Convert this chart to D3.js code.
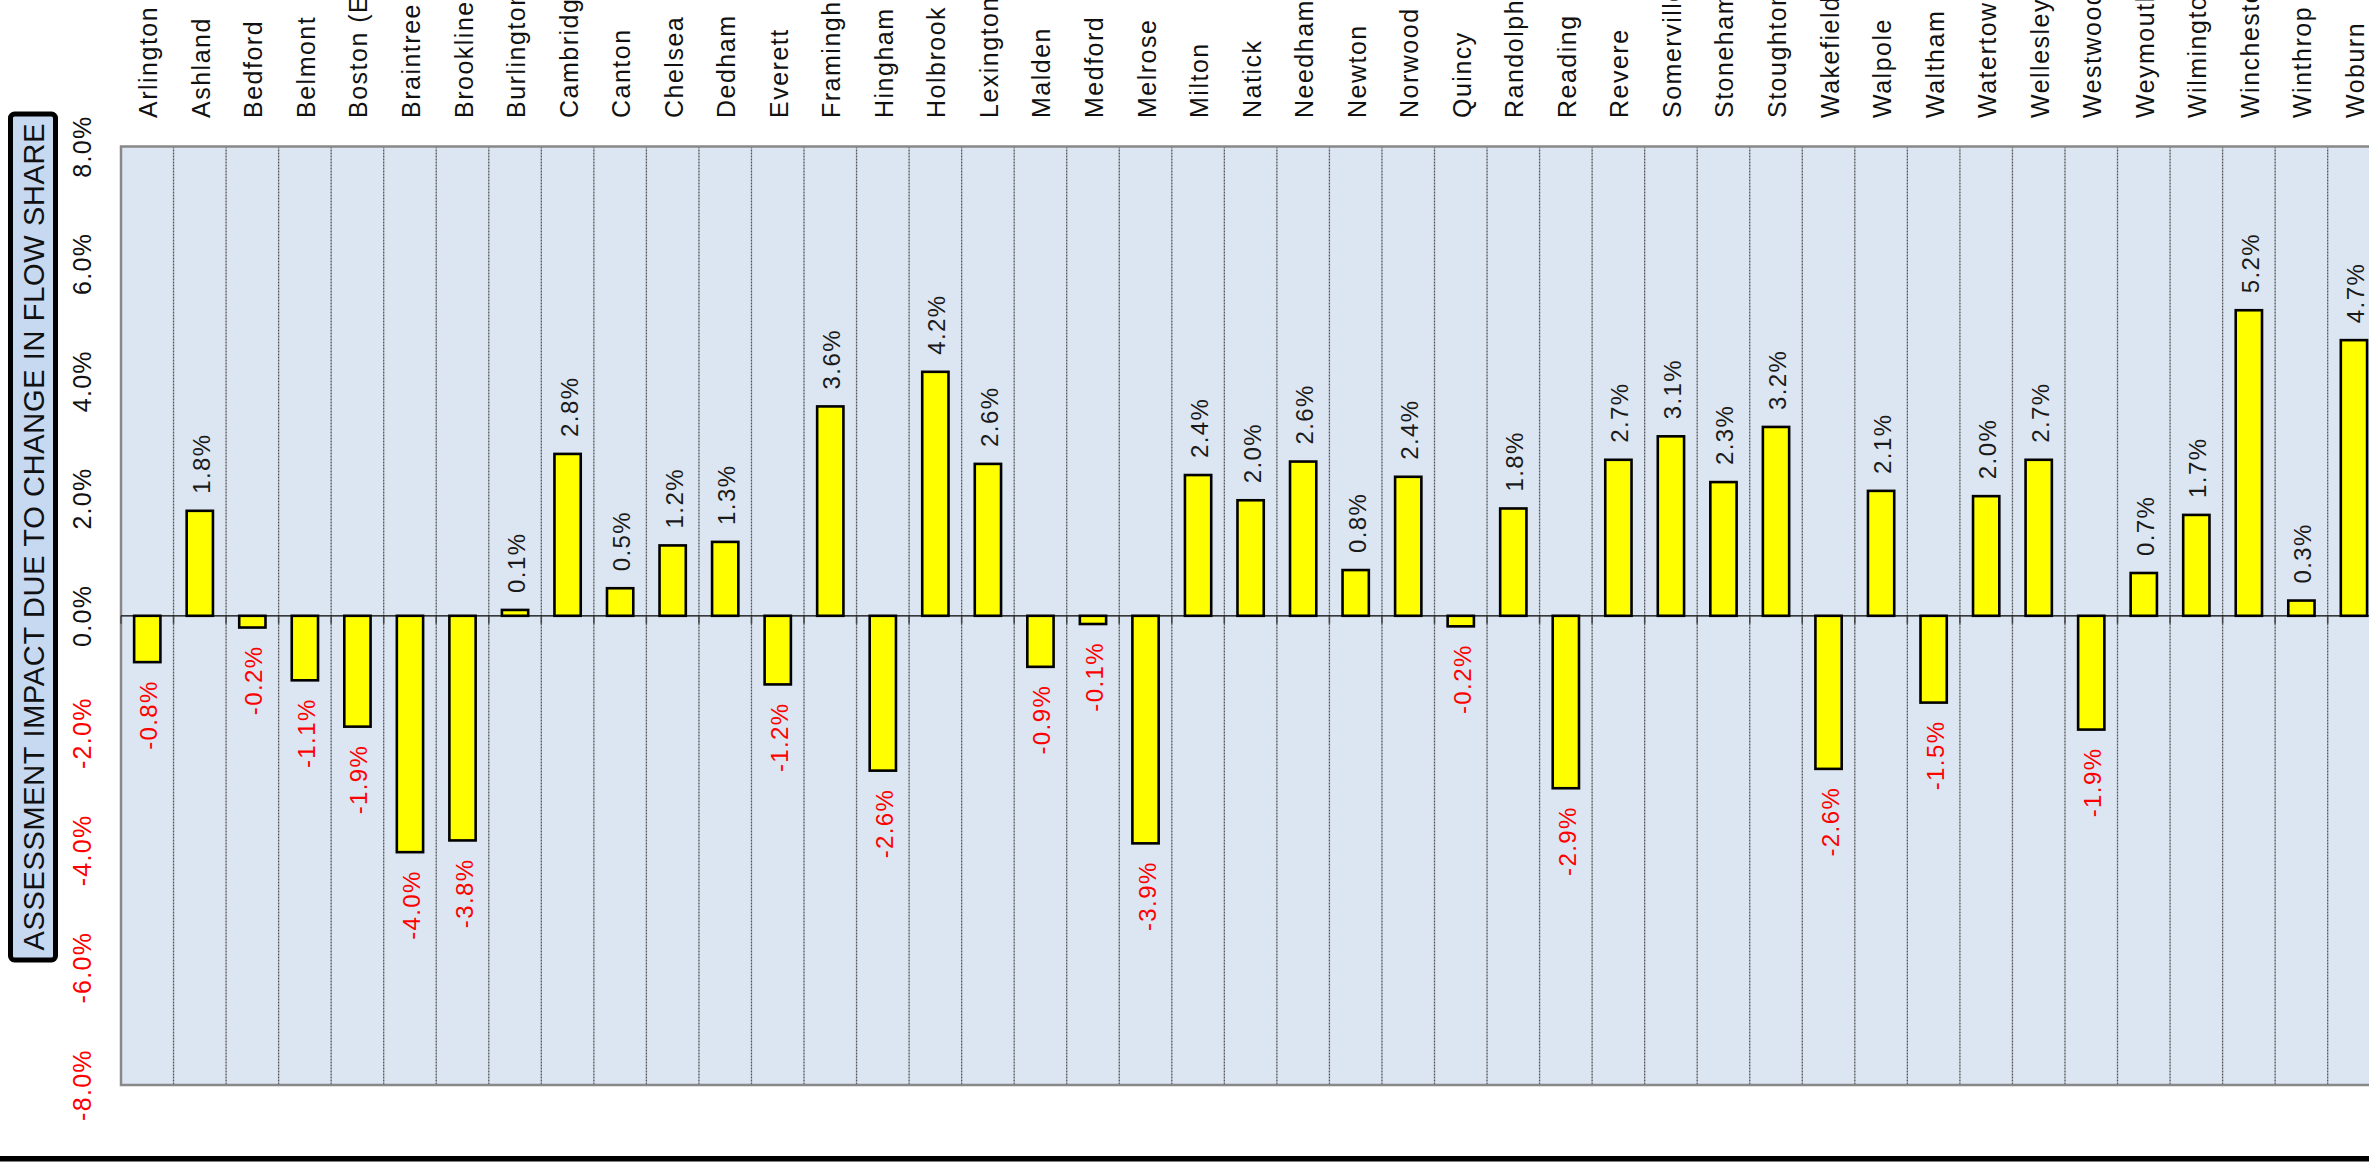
<!DOCTYPE html>
<html>
<head>
<meta charset="utf-8">
<script src="https://cdn.jsdelivr.net/npm/d3@7"></script>
<style>
  html, body { margin: 0; padding: 0; background: #fff; overflow: hidden; }
  svg { display: block; }
  text { font-family: "Liberation Sans", Arial, sans-serif; }
</style>
</head>
<body>
<svg id="chart" width="2369" height="1173"></svg>
<script>
// ---- data ----
const categories = ["Arlington","Ashland","Bedford","Belmont","Boston (East)","Braintree","Brookline","Burlington","Cambridge","Canton","Chelsea","Dedham","Everett","Framingham","Hingham","Holbrook","Lexington","Malden","Medford","Melrose","Milton","Natick","Needham","Newton","Norwood","Quincy","Randolph","Reading","Revere","Somerville","Stoneham","Stoughton","Wakefield","Walpole","Waltham","Watertown","Wellesley","Westwood","Weymouth","Wilmington","Winchester","Winthrop","Woburn"];
const values = [-0.79, 1.79, -0.20, -1.10, -1.89, -4.03, -3.83, 0.10, 2.76, 0.47, 1.20, 1.26, -1.17, 3.57, -2.64, 4.16, 2.59, -0.87, -0.14, -3.88, 2.40, 1.97, 2.63, 0.78, 2.37, -0.18, 1.83, -2.94, 2.66, 3.06, 2.28, 3.22, -2.61, 2.13, -1.48, 2.04, 2.66, -1.94, 0.73, 1.72, 5.21, 0.26, 4.70];
const tickValues = [-8, -6, -4, -2, 0, 2, 4, 6, 8];
const tickLabels = ["-8.0%", "-6.0%", "-4.0%", "-2.0%", "0.0%", "2.0%", "4.0%", "6.0%", "8.0%"];
const axisTitle = "ASSESSMENT IMPACT DUE TO CHANGE IN FLOW SHARE";

// ---- layout ----
const plotLeft = 121, plotTop = 146.6, plotBottom = 1085;
const step = 52.54;
const plotRight = plotLeft + step * categories.length;

const svg = d3.select("#chart");

const x = d3.scaleBand()
  .domain(categories)
  .range([plotLeft, plotRight])
  .paddingInner(0.5)
  .paddingOuter(0.25);

const y = d3.scaleLinear().domain([-8, 8]).range([plotBottom, plotTop]);

// plot background
svg.append("rect")
  .attr("x", plotLeft).attr("y", plotTop)
  .attr("width", plotRight - plotLeft).attr("height", plotBottom - plotTop)
  .attr("fill", "#dce6f2");

// vertical dashed gridlines at category boundaries
const boundaries = categories.slice(1).map(c => x(c) - x.step() * x.paddingInner() / 2);
svg.append("g").selectAll("line").data(boundaries).join("line")
  .attr("x1", d => d).attr("x2", d => d)
  .attr("y1", plotTop).attr("y2", plotBottom)
  .attr("stroke", "#555").attr("stroke-width", 1.3)
  .attr("stroke-dasharray", "2,1");

// plot border
svg.append("path")
  .attr("d", `M${plotRight},${plotTop}H${plotLeft}V${plotBottom}H${plotRight}`)
  .attr("fill", "none").attr("stroke", "#888").attr("stroke-width", 2.5);

// zero line
svg.append("line")
  .attr("x1", plotLeft).attr("x2", plotRight)
  .attr("y1", y(0)).attr("y2", y(0))
  .attr("stroke", "#000").attr("stroke-width", 1.2);

// category tick marks below zero line
svg.append("g").selectAll("line").data([plotLeft].concat(boundaries)).join("line")
  .attr("x1", d => d).attr("x2", d => d)
  .attr("y1", y(0)).attr("y2", y(0) + 8)
  .attr("stroke", "#444").attr("stroke-width", 1.5);

// bars
svg.append("g").selectAll("rect").data(values).join("rect")
  .attr("x", (d, i) => x(categories[i]))
  .attr("width", x.bandwidth())
  .attr("y", d => y(Math.max(0, d)))
  .attr("height", d => Math.abs(y(d) - y(0)))
  .attr("fill", "#ffff00")
  .attr("stroke", "#000")
  .attr("stroke-width", 2.6);

// data labels
svg.append("g").selectAll("text").data(values).join("text")
  .attr("transform", (d, i) => {
    const cx = x(categories[i]) + x.bandwidth() / 2 + 10;
    const yy = d >= 0 ? y(d) - 17 : y(d) + 18;
    return `translate(${cx},${yy}) rotate(-90)`;
  })
  .attr("text-anchor", d => d >= 0 ? "start" : "end")
  .attr("font-size", 24)
  .attr("letter-spacing", 1.4)
  .attr("fill", d => d >= 0 ? "#1a1a1a" : "#ff0000")
  .text(d => d.toFixed(1) + "%");

// category labels (top, rotated)
svg.append("g").selectAll("text").data(categories).join("text")
  .attr("transform", d => `translate(${x(d) + x.bandwidth() / 2 + 10},118) rotate(-90)`)
  .attr("text-anchor", "start")
  .attr("font-size", 25)
  .attr("letter-spacing", 1.5)
  .attr("fill", "#111")
  .text(d => d);

// y tick labels
svg.append("g").selectAll("text").data(tickValues).join("text")
  .attr("transform", d => `translate(91,${y(d)}) rotate(-90)`)
  .attr("text-anchor", "middle")
  .attr("font-size", 25)
  .attr("letter-spacing", 1.3)
  .attr("fill", d => d < 0 ? "#ff0000" : "#111")
  .text((d, i) => tickLabels[i]);

// axis title box
const boxX = 10.5, boxY = 114, boxW = 45, boxH = 846;
svg.append("rect")
  .attr("x", boxX).attr("y", boxY).attr("width", boxW).attr("height", boxH)
  .attr("rx", 4).attr("ry", 4)
  .attr("fill", "#c6d9f1").attr("stroke", "#000").attr("stroke-width", 5);
svg.append("text")
  .attr("transform", `translate(${boxX + boxW / 2 + 11},${boxY + boxH / 2}) rotate(-90)`)
  .attr("text-anchor", "middle")
  .attr("font-size", 29)
  .attr("textLength", 827)
  .attr("lengthAdjust", "spacing")
  .attr("fill", "#111")
  .text(axisTitle);

// bottom rule
svg.append("rect")
  .attr("x", 0).attr("y", 1156).attr("width", 2369).attr("height", 5.5)
  .attr("fill", "#000");
</script>
</body>
</html>
